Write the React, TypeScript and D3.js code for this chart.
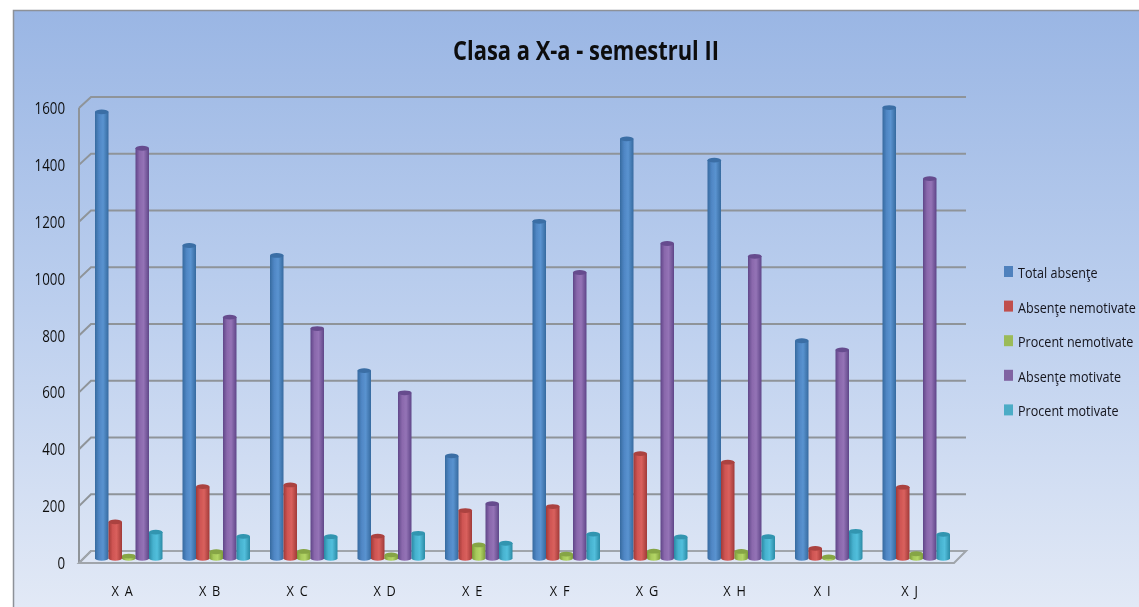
import React from "react";
import * as d3 from "d3";

const categories = ["X A", "X B", "X C", "X D", "X E", "X F", "X G", "X H", "X I", "X J"];
const seriesNames = ["Total absenţe", "Absenţe nemotivate", "Procent nemotivate", "Absenţe motivate", "Procent motivate"];
const totalAbsente = [1570, 1100, 1065, 660, 360, 1185, 1475, 1400, 765, 1585];
const absenteNemotivate = [128, 252, 258, 78, 168, 182, 368, 338, 35, 250];
const procentNemotivate = [8, 23, 24, 12, 47, 15, 25, 24, 5, 16];
const absenteMotivate = [1442, 848, 808, 582, 192, 1005, 1107, 1062, 733, 1335];
const procentMotivate = [92, 77, 76, 88, 53, 85, 75, 76, 95, 84];
const seriesValues = [totalAbsente, absenteNemotivate, procentNemotivate, absenteMotivate, procentMotivate];
const yTicks = [0, 200, 400, 600, 800, 1000, 1200, 1400, 1600];

const colors = [
  { d: "#366a9f", m: "#4f86c4", l: "#5a93d0", flat: "#4f81bd", top: "#3a6ea5" },
  { d: "#a03a38", m: "#cf5553", l: "#d9605d", flat: "#c0504d", top: "#ab4240" },
  { d: "#7b9a3a", m: "#a6c95a", l: "#b3d566", flat: "#9bbb59", top: "#86a545" },
  { d: "#5f4688", m: "#8a68ac", l: "#9473b6", flat: "#8064a2", top: "#664c8e" },
  { d: "#2b8aa5", m: "#47b2cf", l: "#52bfdc", flat: "#4bacc6", top: "#3095b0" },
];

const W = 1139, H = 607;
const GRID = "#8f9499";

export default function App() {
  const x0 = d3.scaleBand<string>().domain(categories).range([85, 960]).paddingInner(0.2286).paddingOuter(0.1143);
  const x1 = d3.scaleBand<number>().domain(d3.range(5)).range([0, x0.bandwidth()]);
  const yFront = d3.scaleLinear().domain([0, 1600]).range([563, 108]);
  const yBack = d3.scaleLinear().domain([0, 1600]).range([551, 97]);
  const yBar = d3.scaleLinear().domain([0, 1600]).range([558.3, 103.3]);
  const w = x1.bandwidth();
  const rx = w / 2;
  const ry = 2.4;

  return (
    <svg width={W} height={H} style={{ position: "absolute", left: 0, top: 0 }} fontFamily="'Open Sans', sans-serif">
      <defs>
        <linearGradient id="bg" x1="0" y1="0" x2="0" y2="1">
          <stop offset="0" stopColor="#9ab6e4" />
          <stop offset="0.5" stopColor="#bccfee" />
          <stop offset="1" stopColor="#e2e9f6" />
        </linearGradient>
        {colors.map((c, i) => (
          <linearGradient key={i} id={`cyl${i}`} x1="0" y1="0" x2="1" y2="0">
            <stop offset="0" stopColor={c.d} />
            <stop offset="0.3" stopColor={c.m} />
            <stop offset="0.6" stopColor={c.l} />
            <stop offset="1" stopColor={c.d} />
          </linearGradient>
        ))}
        <filter id="blur"><feGaussianBlur stdDeviation="0.5" /></filter>
        <filter id="tblur"><feGaussianBlur stdDeviation="0.25" /></filter>
      </defs>
      <rect x={0} y={0} width={W} height={H} fill="#fff" />
      <rect x={13} y={10} width={W - 13} height={H - 10} fill="url(#bg)" />
      <path d={`M13.5,${H}V10.5H${W}`} fill="none" stroke="#8d9198" strokeWidth={1.5} />

      <g filter="url(#blur)">
        <path d={`M79,${yFront(1600)}V${yFront(0)}`} fill="none" stroke={GRID} strokeWidth={2} />
        {yTicks.map((t) => (
          <path key={t} d={`M79,${yFront(t)}L91,${yBack(t)}H966`} fill="none" stroke={GRID} strokeWidth={2} />
        ))}
        <path d={`M79,${yFront(0)}L91,${yBack(0)}H966L954,${yFront(0)}Z`} fill="#dfe6f3" fillOpacity={0.25} stroke="#a0a5ab" strokeWidth={2} />
        {categories.map((c, ci) =>
          seriesValues.map((vals, si) => {
            const xa = (x0(c) as number) + (x1(si) as number);
            const top = yBar(vals[ci]);
            const base = yBar(0);
            return (
              <g key={`${ci}-${si}`}>
                <path
                  d={`M${xa},${top}V${base}A${rx},${ry} 0 0 0 ${xa + w},${base}V${top}Z`}
                  fill={`url(#cyl${si})`}
                />
                <ellipse cx={xa + rx} cy={top} rx={rx} ry={ry} fill={colors[si].top} />
              </g>
            );
          })
        )}
      </g>

      <g filter="url(#tblur)">
        <text x={586} y={60} textAnchor="middle" fontSize={27} fontWeight={700} fill="#0c0c10" textLength={266} lengthAdjust="spacingAndGlyphs">Clasa a X-a - semestrul II</text>
        {yTicks.map((t) => (
          <text key={t} x={65} y={yFront(t) + 6} textAnchor="end" fontSize={16} fill="#111" textLength={String(t).length * 7.6} lengthAdjust="spacingAndGlyphs">{t}</text>
        ))}
        {categories.map((c) => (
          <text key={c} x={0} y={0} transform={`translate(${(x0(c) as number) + x0.bandwidth() / 2 - 6},596) scale(0.85,1)`} textAnchor="middle" fontSize={15} fill="#111" letterSpacing={1.5}>{c}</text>
        ))}
        {seriesNames.map((n, i) => {
          const ly = 271.5 + i * 34.6;
          return (
            <g key={n}>
              <rect x={1004} y={ly - 5.5} width={9} height={11} fill={colors[i].flat} />
              <text x={0} y={0} transform={`translate(1018,${ly + 6.5}) scale(0.84,1)`} fontSize={15} fill="#14141c">{n}</text>
            </g>
          );
        })}
      </g>
    </svg>
  );
}
